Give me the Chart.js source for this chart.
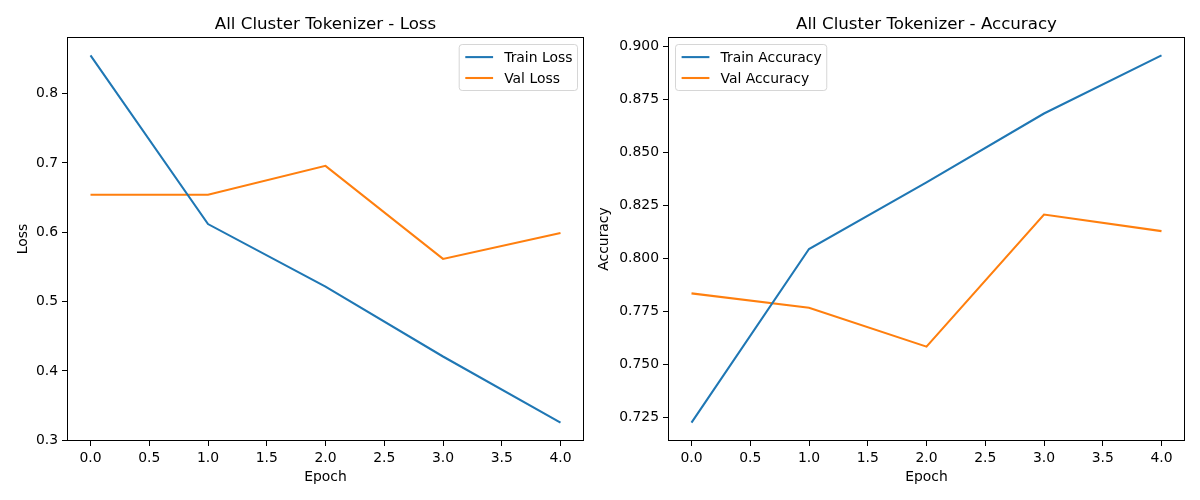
<!DOCTYPE html>
<html>
<head>
<meta charset="utf-8">
<script src="https://cdn.jsdelivr.net/npm/chart.js@4.4.0/dist/chart.umd.min.js"></script>
<style>
    html, body { margin: 0; padding: 0; background: #fff; }
    #wrap { position: relative; width: 1200px; height: 500px; overflow: hidden; }
    .panel { position: absolute; top: 0; height: 500px; }
</style>
</head>
<body>
<div id="wrap">
    <div class="panel" style="left:0;width:595px"><canvas id="lossChart" width="595" height="500"></canvas></div>
    <div class="panel" style="left:595px;width:605px"><canvas id="accChart" width="605" height="500"></canvas></div>
</div>
<script>
// datos
const epochs = [0, 1, 2, 3, 4];
const trainLoss = [0.8551, 0.6118, 0.5216, 0.4208, 0.3254];
const valLoss = [0.6540, 0.6540, 0.6958, 0.5615, 0.5989];
const trainAcc = [0.7226, 0.8044, 0.8358, 0.8682, 0.8956];
const valAcc = [0.7835, 0.7767, 0.7584, 0.8206, 0.8128];

const xTicks = [0, 0.5, 1, 1.5, 2, 2.5, 3, 3.5, 4];
const lossTicks = [0.3, 0.4, 0.5, 0.6, 0.7, 0.8];
const accTicks = [0.725, 0.75, 0.775, 0.8, 0.825, 0.85, 0.875, 0.9];

const FONT = '"DejaVu Sans", sans-serif';
const BLUE = '#1f77b4';
const ORANGE = '#ff7f0e';

// margen de 5% como matplotlib
function limites(valores) {
    const min = Math.min(...valores), max = Math.max(...valores);
    const m = (max - min) * 0.05;
    return { min: min - m, max: max + m };
}

// marco completo alrededor del área
const marco = {
    id: 'marco',
    afterDatasetsDraw(chart) {
        const a = chart.chartArea, ctx = chart.ctx;
        ctx.save();
        ctx.strokeStyle = '#000';
        ctx.lineWidth = 1;
        const l = Math.round(a.left) + 0.5, r = Math.round(a.right) - 0.5;
        const t = Math.round(a.top) + 0.5, b = Math.round(a.bottom) - 0.5;
        ctx.strokeRect(l, t, r - l, b - t);
        ctx.restore();
    }
};

// leyenda con caja redondeada dentro del área
const leyenda = {
    id: 'leyenda',
    afterDraw(chart, args, opts) {
        const ctx = chart.ctx, a = chart.chartArea;
        const fs = 13.9;
        ctx.save();
        ctx.font = fs + 'px ' + FONT;
        const items = chart.data.datasets;
        const textW = Math.max(...items.map(d => ctx.measureText(d.label).width));
        const pad = 5.6, handle = 27.8, gap = 11.1, row = 20.9;
        const w = pad * 2 + handle + gap + textW;
        const h = 46;
        const x = opts.side === 'right' ? a.right - 7 - w : a.left + 7;
        const y = a.top + 7;
        ctx.beginPath();
        ctx.roundRect(x + 0.5, y + 0.5, w, h, 3);
        ctx.fillStyle = 'rgba(255,255,255,0.8)';
        ctx.fill();
        ctx.strokeStyle = 'rgba(204,204,204,0.8)';
        ctx.lineWidth = 1;
        ctx.stroke();
        items.forEach((d, i) => {
            const cy = y + pad + 7.5 + i * row;
            ctx.beginPath();
            ctx.strokeStyle = d.borderColor;
            ctx.lineWidth = 2.08;
            ctx.moveTo(x + pad + 1, cy);
            ctx.lineTo(x + pad + 1 + handle, cy);
            ctx.stroke();
            ctx.fillStyle = '#000';
            ctx.textBaseline = 'middle';
            ctx.textAlign = 'left';
            ctx.fillText(d.label, x + pad + handle + gap + 1, cy + 1);
        });
        ctx.restore();
    }
};

function serie(label, valores, color) {
    return {
        label: label,
        data: epochs.map((e, i) => ({ x: e, y: valores[i] })),
        borderColor: color,
        backgroundColor: color,
        borderWidth: 2.08,
        pointRadius: 0,
        tension: 0,
        fill: false
    };
}

function dibujarGrafico(canvasId, cfg) {
    const ylim = limites(cfg.series.flatMap(s => s.valores));
    const tickFont = { family: FONT, size: 13.9 };
    return new Chart(document.getElementById(canvasId), {
        type: 'line',
        data: {
            datasets: cfg.series.map(s => serie(s.label, s.valores, s.color))
        },
        plugins: [marco, leyenda],
        options: {
            responsive: false,
            animation: false,
            events: [],
            layout: { padding: { left: 0, right: cfg.padRight, top: 0, bottom: 0 } },
            plugins: {
                legend: { display: false },
                tooltip: { enabled: false },
                title: {
                    display: true,
                    text: cfg.titulo,
                    fullSize: false,
                    color: '#000',
                    font: { family: FONT, size: 16.67, weight: 'normal' },
                    padding: { top: 14.5, bottom: 2.5 }
                },
                leyenda: { side: cfg.ladoLeyenda }
            },
            scales: {
                x: {
                    type: 'linear',
                    min: -0.2,
                    max: 4.2,
                    afterFit: s => { s.height = 59; },
                    afterBuildTicks: s => { s.ticks = xTicks.map(v => ({ value: v })); },
                    border: { display: false },
                    grid: { drawOnChartArea: false, drawTicks: true, tickLength: 5, color: '#000', lineWidth: 1 },
                    ticks: {
                        color: '#000', font: tickFont, padding: 4, autoSkip: false, maxRotation: 0,
                        callback: v => Number(v).toFixed(1)
                    },
                    title: {
                        display: true, text: 'Epoch', color: '#000',
                        font: tickFont, padding: { top: 0, bottom: 14 }
                    }
                },
                y: {
                    type: 'linear',
                    min: ylim.min,
                    max: ylim.max,
                    afterFit: s => { s.width = cfg.anchoY; },
                    afterBuildTicks: s => { s.ticks = cfg.ticksY.map(v => ({ value: v })); },
                    border: { display: false },
                    grid: { drawOnChartArea: false, drawTicks: true, tickLength: 5, color: '#000', lineWidth: 1 },
                    ticks: {
                        color: '#000', font: tickFont, padding: 4, autoSkip: false,
                        callback: v => Number(v).toFixed(cfg.decimales)
                    },
                    title: {
                        display: true, text: cfg.etiquetaY, color: '#000',
                        font: tickFont, padding: { top: cfg.padTituloY, bottom: 0 }
                    }
                }
            }
        }
    });
}

dibujarGrafico('lossChart', {
    titulo: 'All Cluster Tokenizer - Loss',
    etiquetaY: 'Loss',
    series: [
        { label: 'Train Loss', valores: trainLoss, color: BLUE },
        { label: 'Val Loss', valores: valLoss, color: ORANGE }
    ],
    ticksY: lossTicks,
    decimales: 1,
    anchoY: 67,
    padRight: 11,
    padTituloY: 14.6,
    ladoLeyenda: 'right'
});

dibujarGrafico('accChart', {
    titulo: 'All Cluster Tokenizer - Accuracy',
    etiquetaY: 'Accuracy',
    series: [
        { label: 'Train Accuracy', valores: trainAcc, color: BLUE },
        { label: 'Val Accuracy', valores: valAcc, color: ORANGE }
    ],
    ticksY: accTicks,
    decimales: 3,
    anchoY: 73,
    padRight: 15,
    padTituloY: 0.6,
    ladoLeyenda: 'left'
});
</script>
</body>
</html>
